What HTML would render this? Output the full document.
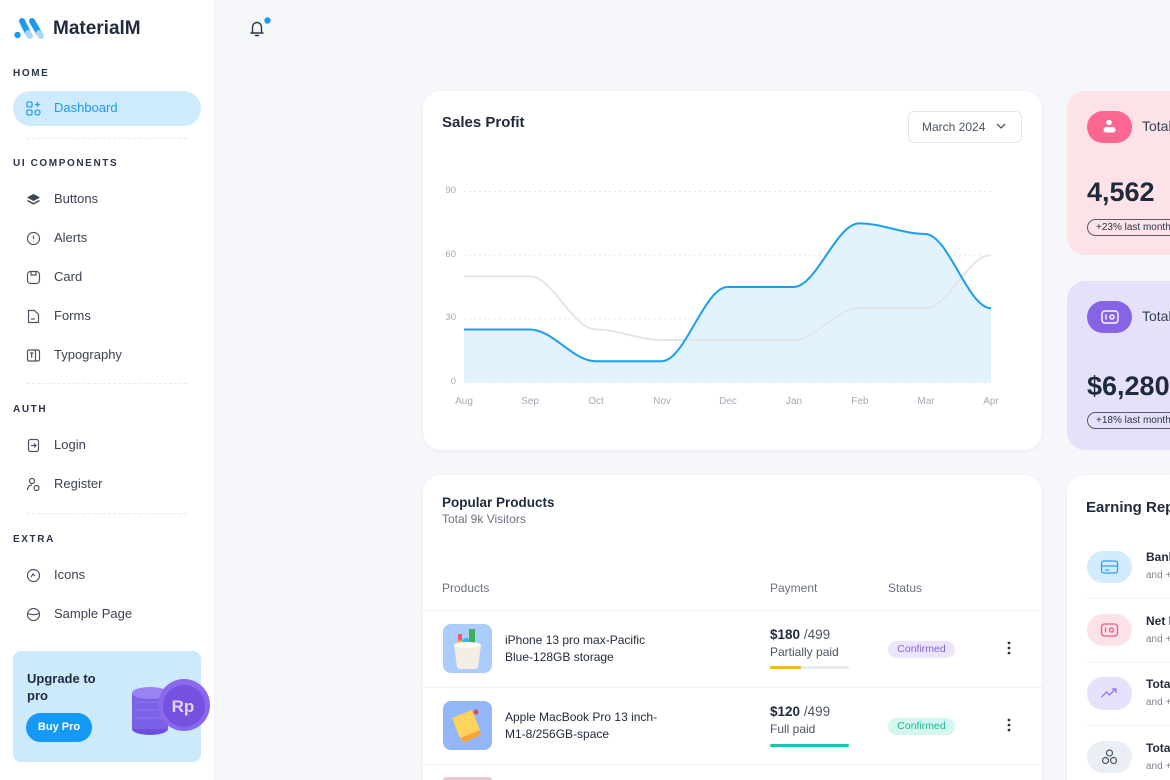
<!DOCTYPE html>
<html><head><meta charset="utf-8">
<style>
*{box-sizing:border-box;margin:0;padding:0}
html,body{width:1170px;height:780px;overflow:hidden}
body{background:#f5f7fb;font-family:"Liberation Sans",Arial,sans-serif;color:#2a3547}
#root{position:relative;width:1170px;height:780px;overflow:hidden;background:#f5f7fb}
.abs{position:absolute}
#side{position:absolute;left:0;top:0;width:215px;height:780px;background:#fff;border-right:1px solid #eef1f5}
.sec{position:absolute;left:13px;font-size:10px;font-weight:bold;letter-spacing:1.6px;color:#2a3547;height:14px;line-height:14px}
.it{position:absolute;left:54px;font-size:13px;color:#3b4252;height:20px;line-height:20px;white-space:nowrap}
.ic{position:absolute;left:26px;width:15px;height:15px}
.dash{position:absolute;left:27px;width:160px;border-top:1px dashed #e6e9ee;height:0}
.card{position:absolute;background:#fff;border-radius:18px;box-shadow:0 1px 4px rgba(30,40,60,0.06)}
.t{position:absolute;white-space:nowrap}
</style></head><body>
<div id="root">

<div id="side">
  <svg class="abs" style="left:12px;top:15px" width="36" height="28" viewBox="12 15 36 28">
    <circle cx="17.5" cy="35" r="3.2" fill="#1b9af3"/>
    <line x1="22" y1="21" x2="28" y2="33" stroke="#1b9af3" stroke-width="6" stroke-linecap="round"/>
    <line x1="28" y1="33" x2="30" y2="36" stroke="#a6d6fb" stroke-width="6" stroke-linecap="round"/>
    <line x1="32" y1="21" x2="39" y2="33" stroke="#1b9af3" stroke-width="6" stroke-linecap="round"/>
    <line x1="39" y1="33" x2="41" y2="36" stroke="#a6d6fb" stroke-width="6" stroke-linecap="round"/>
  </svg>
  <div class="t" style="left:53px;top:18px;font-size:19px;font-weight:bold;color:#1f2a3c;line-height:22px">MaterialM</div>

  <div class="sec" style="top:67px">HOME</div>
  <div class="abs" style="left:13px;top:91px;width:188px;height:35px;border-radius:18px;background:#cdebfd"></div>
  <svg class="ic" style="top:101px" viewBox="0 0 15 15" fill="none" stroke="#2b9ff0" stroke-width="1.3"><rect x="1" y="1" width="5" height="5" rx="1.2"/><rect x="1" y="9" width="5" height="5" rx="1.2"/><rect x="9" y="9" width="5" height="5" rx="2.5"/><path d="M11.5 1v5M9 3.5h5"/></svg>
  <div class="it" style="top:98px;color:#1f9bef">Dashboard</div>
  <div class="dash" style="top:138px"></div>

  <div class="sec" style="top:157px">UI COMPONENTS</div>
  <svg class="ic" style="top:192px" viewBox="0 0 15 15"><path d="M7.5 2L14 5.5 7.5 9 1 5.5z" fill="#3b4252"/><path d="M1.5 8.5l6 3.3 6-3.3" stroke="#3b4252" stroke-width="1.5" fill="none"/></svg>
  <div class="it" style="top:189px">Buttons</div>
  <svg class="ic" style="top:231px" viewBox="0 0 15 15" fill="none" stroke="#4b5363" stroke-width="1.2"><circle cx="7.5" cy="7.5" r="6"/><path d="M7.5 4.5v3.5M7.5 10v.5"/></svg>
  <div class="it" style="top:228px">Alerts</div>
  <svg class="ic" style="top:270px" viewBox="0 0 15 15" fill="none" stroke="#4b5363" stroke-width="1.2"><rect x="1.5" y="1.5" width="12" height="12" rx="3"/><path d="M5 2v3h5V2"/></svg>
  <div class="it" style="top:267px">Card</div>
  <svg class="ic" style="top:309px" viewBox="0 0 15 15" fill="none" stroke="#4b5363" stroke-width="1.2"><path d="M2.5 1.5h6l4 4v8h-10z"/><path d="M5 10h4"/></svg>
  <div class="it" style="top:306px">Forms</div>
  <svg class="ic" style="top:348px" viewBox="0 0 15 15" fill="none" stroke="#4b5363" stroke-width="1.2"><rect x="1.5" y="2" width="12" height="11" rx="1.5"/><path d="M9.5 2v11M4 5h3.5M5.7 5v5"/></svg>
  <div class="it" style="top:345px">Typography</div>
  <div class="dash" style="top:383px"></div>

  <div class="sec" style="top:403px">AUTH</div>
  <svg class="ic" style="top:438px" viewBox="0 0 15 15" fill="none" stroke="#4b5363" stroke-width="1.2"><rect x="2.5" y="1.5" width="10" height="12" rx="2"/><path d="M5 7.5h5M8 5.5l2 2-2 2"/></svg>
  <div class="it" style="top:435px">Login</div>
  <svg class="ic" style="top:477px" viewBox="0 0 15 15" fill="none" stroke="#4b5363" stroke-width="1.2"><circle cx="6" cy="4" r="2.5"/><path d="M1.5 13c0-3 2-5 4.5-5"/><circle cx="10.5" cy="11" r="2.5"/></svg>
  <div class="it" style="top:474px">Register</div>
  <div class="dash" style="top:513px"></div>

  <div class="sec" style="top:533px">EXTRA</div>
  <svg class="ic" style="top:568px" viewBox="0 0 15 15" fill="none" stroke="#4b5363" stroke-width="1.2"><circle cx="7.5" cy="7.5" r="6"/><path d="M5 9l2-3 2 2"/></svg>
  <div class="it" style="top:565px">Icons</div>
  <svg class="ic" style="top:607px" viewBox="0 0 15 15" fill="none" stroke="#4b5363" stroke-width="1.2"><circle cx="7.5" cy="7.5" r="6"/><path d="M1.8 6.5c3 1.5 8 1.5 11.4 0"/></svg>
  <div class="it" style="top:604px">Sample Page</div>

  <div class="abs" style="left:13px;top:651px;width:188px;height:111px;border-radius:8px;background:#cdeafd"></div>
  <div class="t" style="left:27px;top:670px;font-size:13px;font-weight:bold;color:#1f2a3c;line-height:17px">Upgrade to<br>pro</div>
  <div class="abs" style="left:26px;top:713px;width:66px;height:29px;border-radius:15px;background:#1499f7;color:#fff;font-size:11px;font-weight:bold;text-align:center;line-height:29px">Buy Pro</div>
  <svg class="abs" style="left:128px;top:676px" width="87" height="64" viewBox="128 676 87 64">
    <ellipse cx="150" cy="729" rx="18" ry="6" fill="#6a4fd9"/>
    <rect x="132" y="693" width="36" height="36" fill="#7d60e8"/>
    <ellipse cx="150" cy="693" rx="18" ry="6" fill="#9a82f0"/>
    <path d="M134 702h33M134 710h33M134 718h33" stroke="#9078ee" stroke-width="1"/>
    <circle cx="184" cy="705" r="26" fill="#8a68ee"/>
    <circle cx="184" cy="706" r="21" fill="#7651e0"/>
    <text x="183" y="712" text-anchor="middle" font-family="Liberation Sans" font-weight="bold" font-size="17" fill="#ddd7f5">Rp</text>
  </svg>
</div>

<!-- bell -->
<svg class="abs" style="left:246px;top:15px" width="28" height="26" viewBox="246 15 28 26" fill="none">
  <path d="M251 33h12M252.5 33v-6a4.5 4.5 0 0 1 9 0v6" stroke="#2a3547" stroke-width="1.4" stroke-linecap="round"/>
  <path d="M255.5 35.5h3" stroke="#2a3547" stroke-width="1.4" stroke-linecap="round"/>
  <circle cx="267.5" cy="20.5" r="3.2" fill="#1b9af3"/>
</svg>

<!-- Sales Profit card -->
<div class="card" style="left:423px;top:91px;width:619px;height:359px"></div>
<div class="t" style="left:442px;top:114px;font-size:15px;font-weight:bold;color:#1f2a3c;line-height:18px">Sales Profit</div>
<div class="abs" style="left:908px;top:111px;width:114px;height:32px;border:1px solid #e3e7ec;border-radius:6px"></div>
<div class="t" style="left:922px;top:119px;font-size:12px;color:#4b5563;line-height:16px">March 2024</div>
<svg class="abs" style="left:996px;top:122px" width="10" height="8" viewBox="0 0 10 8"><path d="M1 2l4 4 4-4" stroke="#4b5563" stroke-width="1.3" fill="none"/></svg>

<svg class="abs" style="left:423px;top:91px" width="619" height="359" viewBox="423 91 619 359" font-family="Liberation Sans">
  <g stroke="#e3e7ed" stroke-width="1" stroke-dasharray="2,3">
    <line x1="464" y1="191.5" x2="991" y2="191.5"/>
    <line x1="464" y1="255.2" x2="991" y2="255.2"/>
    <line x1="464" y1="318.8" x2="991" y2="318.8"/>
    <line x1="464" y1="382.5" x2="991" y2="382.5"/>
  </g>
  <g font-size="9.5" fill="#a3aab5" text-anchor="end">
    <text x="456" y="193">90</text>
    <text x="456" y="257">60</text>
    <text x="456" y="320">30</text>
    <text x="456" y="384">0</text>
  </g>
  <g font-size="10" fill="#a3aab5" text-anchor="middle">
    <text x="464" y="404">Aug</text><text x="530" y="404">Sep</text><text x="596" y="404">Oct</text>
    <text x="662" y="404">Nov</text><text x="728" y="404">Dec</text><text x="794" y="404">Jan</text>
    <text x="860" y="404">Feb</text><text x="926" y="404">Mar</text><text x="991" y="404">Apr</text>
  </g>
  <path d="M464,329.44 L529.88,329.44 C552.94,329.44 572.69,361.28 595.75,361.28 L661.63,361.28 C684.69,361.28 704.44,287 727.5,287 L793.38,287 C816.44,287 836.19,223.33 859.25,223.33 C882.31,223.33 902.07,233.94 925.13,233.94 C948.19,233.94 967.94,308.22 991,308.22 L991,382.5 L464,382.5 Z" fill="#e2f3fd"/>
  <path d="M464,276.39 L529.88,276.39 C552.94,276.39 572.69,329.44 595.75,329.44 C618.81,329.44 638.57,340.06 661.63,340.06 L793.38,340.06 C816.44,340.06 836.19,308.22 859.25,308.22 L925.13,308.22 C948.19,308.22 967.94,255.17 991,255.17" fill="none" stroke="#e3e5e9" stroke-width="2"/>
  <path d="M464,329.44 L529.88,329.44 C552.94,329.44 572.69,361.28 595.75,361.28 L661.63,361.28 C684.69,361.28 704.44,287 727.5,287 L793.38,287 C816.44,287 836.19,223.33 859.25,223.33 C882.31,223.33 902.07,233.94 925.13,233.94 C948.19,233.94 967.94,308.22 991,308.22" fill="none" stroke="#1a9ff0" stroke-width="2"/>
</svg>

<!-- Right top cards -->
<div class="abs" style="left:1067px;top:91px;width:103px;height:164px;border-radius:18px 0 0 18px;background:#fde2e7"></div>
<div class="abs" style="left:1087px;top:111px;width:45px;height:32px;border-radius:16px;background:#fd6690"></div>
<svg class="abs" style="left:1100px;top:117px" width="20" height="20" viewBox="0 0 20 20"><circle cx="9" cy="5.5" r="2.8" fill="#fff"/><rect x="3.5" y="10" width="12" height="5.5" rx="2.7" fill="#fff"/></svg>
<div class="t" style="left:1142px;top:118px;font-size:14px;color:#374151;line-height:17px">Total Customers</div>
<div class="t" style="left:1087px;top:177px;font-size:27px;font-weight:bold;color:#1f2a3c;line-height:30px">4,562</div>
<div class="t" style="left:1087px;top:219px;height:17px;padding:0 8px;border:1px solid #555d6b;border-radius:9px;font-size:10px;color:#2a3547;line-height:15px">+23% last month</div>

<div class="abs" style="left:1067px;top:281px;width:103px;height:169px;border-radius:18px 0 0 18px;background:#e6e1fa"></div>
<div class="abs" style="left:1087px;top:301px;width:45px;height:32px;border-radius:16px;background:#8763e6"></div>
<svg class="abs" style="left:1100px;top:308px" width="20" height="18" viewBox="0 0 20 18" fill="none" stroke="#fff" stroke-width="1.4"><rect x="2" y="3" width="16" height="12" rx="3"/><path d="M6 6.5v5"/><circle cx="12" cy="9" r="2"/></svg>
<div class="t" style="left:1142px;top:308px;font-size:14px;color:#374151;line-height:17px">Total Sales</div>
<div class="t" style="left:1087px;top:371px;font-size:27px;font-weight:bold;color:#1f2a3c;line-height:30px">$6,280</div>
<div class="t" style="left:1087px;top:412px;height:17px;padding:0 8px;border:1px solid #555d6b;border-radius:9px;font-size:10px;color:#2a3547;line-height:15px">+18% last month</div>

<!-- Popular Products -->
<div class="card" style="left:423px;top:475px;width:619px;height:305px;border-radius:18px 18px 0 0"></div>
<div class="t" style="left:442px;top:494px;font-size:13.5px;font-weight:bold;color:#1f2a3c;line-height:17px">Popular Products</div>
<div class="t" style="left:442px;top:512px;font-size:12px;color:#6b7280;line-height:15px">Total 9k Visitors</div>
<div class="t" style="left:442px;top:581px;font-size:12px;color:#6b7280;line-height:15px">Products</div>
<div class="t" style="left:770px;top:581px;font-size:12px;color:#6b7280;line-height:15px">Payment</div>
<div class="t" style="left:888px;top:581px;font-size:12px;color:#6b7280;line-height:15px">Status</div>
<div class="abs" style="left:423px;top:610px;width:619px;border-top:1px solid #eef0f3"></div>
<div class="abs" style="left:423px;top:687px;width:619px;border-top:1px solid #eef0f3"></div>
<div class="abs" style="left:423px;top:764px;width:619px;border-top:1px solid #eef0f3"></div>

<!-- row 1 -->
<div class="abs" style="left:443px;top:624px;width:49px;height:49px;border-radius:8px;background:#abcdfb"></div>
<svg class="abs" style="left:443px;top:624px" width="49" height="49" viewBox="0 0 49 49">
  <rect x="26" y="5" width="6" height="18" rx="1" fill="#3fae5a"/>
  <rect x="15" y="10" width="4" height="14" fill="#f25c6e"/>
  <circle cx="23" cy="18" r="4" fill="#3db7e8"/>
  <circle cx="17" cy="20" r="3.5" fill="#f7c744"/>
  <path d="M11 21h27l-3 22a3 3 0 0 1-3 2H17a3 3 0 0 1-3-2z" fill="#f4ede4"/>
  <ellipse cx="24.5" cy="21" rx="13.5" ry="3" fill="#fffaf3"/>
</svg>
<div class="t" style="left:505px;top:632px;font-size:12px;color:#1f2937;line-height:17px">iPhone 13 pro max-Pacific<br>Blue-128GB storage</div>
<div class="t" style="left:770px;top:626px;font-size:13.5px;color:#1f2a3c;line-height:17px"><b>$180</b> <span style="color:#4b5563">/499</span></div>
<div class="t" style="left:770px;top:645px;font-size:12px;color:#4b5563;line-height:15px">Partially paid</div>
<div class="abs" style="left:770px;top:666px;width:79px;height:3px;border-radius:2px;background:#e8ebef"></div>
<div class="abs" style="left:770px;top:666px;width:31px;height:3px;border-radius:2px;background:#f7b231"></div>
<div class="t" style="left:888px;top:641px;width:67px;height:17px;border-radius:9px;background:#ece6fd;color:#8560df;font-size:10.5px;line-height:17px;text-align:center">Confirmed</div>
<svg class="abs" style="left:1006px;top:641px" width="6" height="14" viewBox="0 0 6 14"><circle cx="3" cy="2" r="1.4" fill="#2a3547"/><circle cx="3" cy="7" r="1.4" fill="#2a3547"/><circle cx="3" cy="12" r="1.4" fill="#2a3547"/></svg>

<!-- row 2 -->
<div class="abs" style="left:443px;top:701px;width:49px;height:49px;border-radius:8px;background:#93b7f6"></div>
<svg class="abs" style="left:443px;top:701px" width="49" height="49" viewBox="0 0 49 49">
  <path d="M12 22l18-8 8 20-18 8z" fill="#f7a23b"/>
  <path d="M9 17l20-8 8 20-20 8z" fill="#fdd35a"/>
  <circle cx="33" cy="11" r="2.5" fill="#e24b5c"/>
</svg>
<div class="t" style="left:505px;top:709px;font-size:12px;color:#1f2937;line-height:17px">Apple MacBook Pro 13 inch-<br>M1-8/256GB-space</div>
<div class="t" style="left:770px;top:703px;font-size:13.5px;color:#1f2a3c;line-height:17px"><b>$120</b> <span style="color:#4b5563">/499</span></div>
<div class="t" style="left:770px;top:722px;font-size:12px;color:#4b5563;line-height:15px">Full paid</div>
<div class="abs" style="left:770px;top:744px;width:79px;height:3px;border-radius:2px;background:#12c7a9"></div>
<div class="t" style="left:888px;top:718px;width:67px;height:17px;border-radius:9px;background:#d5f6ef;color:#17b896;font-size:10.5px;line-height:17px;text-align:center">Confirmed</div>
<svg class="abs" style="left:1006px;top:718px" width="6" height="14" viewBox="0 0 6 14"><circle cx="3" cy="2" r="1.4" fill="#2a3547"/><circle cx="3" cy="7" r="1.4" fill="#2a3547"/><circle cx="3" cy="12" r="1.4" fill="#2a3547"/></svg>
<!-- row 3 hint -->
<div class="abs" style="left:443px;top:777px;width:49px;height:3px;border-radius:8px 8px 0 0;background:#e8c9d2"></div>

<!-- Earning Reports -->
<div class="abs" style="left:1067px;top:475px;width:103px;height:305px;border-radius:18px 0 0 0;background:#fff;box-shadow:0 1px 4px rgba(30,40,60,0.06)"></div>
<div class="t" style="left:1086px;top:499px;font-size:15px;font-weight:bold;color:#1f2a3c;line-height:18px">Earning Reports</div>

<div class="abs" style="left:1087px;top:551px;width:45px;height:32px;border-radius:16px;background:#d2ecfd"></div>
<svg class="abs" style="left:1100px;top:559px" width="19" height="16" viewBox="0 0 19 16" fill="none" stroke="#2b9ff0" stroke-width="1.3"><rect x="1.5" y="2" width="16" height="12" rx="2.5"/><path d="M1.5 7h16M5 11h4"/></svg>
<div class="t" style="left:1146px;top:550px;font-size:12px;font-weight:bold;color:#1f2a3c;line-height:15px">Bank Transfer</div>
<div class="t" style="left:1146px;top:569px;font-size:10px;color:#7b8391;line-height:13px">and +1, more</div>
<div class="abs" style="left:1086px;top:598px;width:84px;border-top:1px solid #eef0f3"></div>

<div class="abs" style="left:1087px;top:614px;width:45px;height:32px;border-radius:16px;background:#fde2e7"></div>
<svg class="abs" style="left:1100px;top:622px" width="19" height="16" viewBox="0 0 19 16" fill="none" stroke="#f0597f" stroke-width="1.3"><rect x="1.5" y="2" width="16" height="12" rx="3"/><path d="M5.5 5.5v5"/><circle cx="11.5" cy="8" r="2"/></svg>
<div class="t" style="left:1146px;top:614px;font-size:12px;font-weight:bold;color:#1f2a3c;line-height:15px">Net Profit</div>
<div class="t" style="left:1146px;top:633px;font-size:10px;color:#7b8391;line-height:13px">and +4, more</div>
<div class="abs" style="left:1086px;top:662px;width:84px;border-top:1px solid #eef0f3"></div>

<div class="abs" style="left:1087px;top:677px;width:45px;height:33px;border-radius:16px;background:#e8e1fb"></div>
<svg class="abs" style="left:1100px;top:685px" width="19" height="16" viewBox="0 0 19 16" fill="none" stroke="#9a7ae8" stroke-width="1.4"><path d="M1.5 12l5-5 3 3 6-6M12 4h4v4"/></svg>
<div class="t" style="left:1146px;top:677px;font-size:12px;font-weight:bold;color:#1f2a3c;line-height:15px">Total Income</div>
<div class="t" style="left:1146px;top:696px;font-size:10px;color:#7b8391;line-height:13px">and +2, more</div>
<div class="abs" style="left:1086px;top:725px;width:84px;border-top:1px solid #eef0f3"></div>

<div class="abs" style="left:1087px;top:741px;width:45px;height:32px;border-radius:16px;background:#eaeef5"></div>
<svg class="abs" style="left:1100px;top:748px" width="19" height="18" viewBox="0 0 19 18" fill="none" stroke="#4b5363" stroke-width="1.2"><circle cx="9.5" cy="5" r="3"/><circle cx="5.5" cy="12.5" r="3"/><circle cx="13.5" cy="12.5" r="3"/></svg>
<div class="t" style="left:1146px;top:741px;font-size:12px;font-weight:bold;color:#1f2a3c;line-height:15px">Total Expenses</div>
<div class="t" style="left:1146px;top:760px;font-size:10px;color:#7b8391;line-height:13px">and +1, more</div>

</div>
</body></html>
